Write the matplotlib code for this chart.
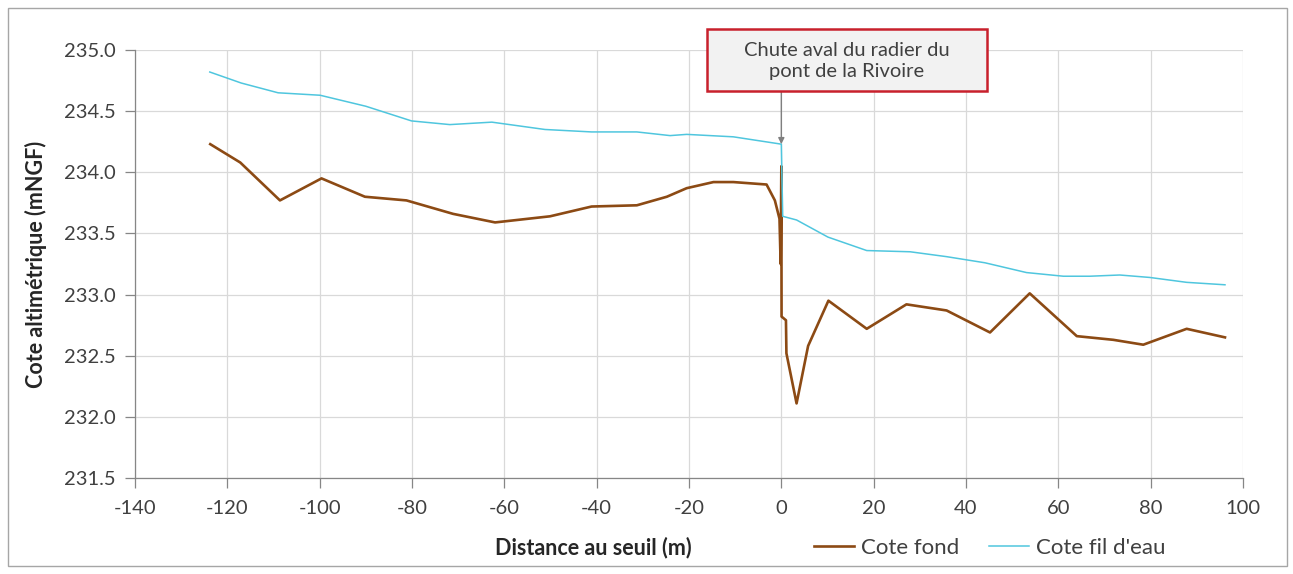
import matplotlib
matplotlib.use("Agg")
import matplotlib.pyplot as plt
from matplotlib.patches import Rectangle
from matplotlib.ticker import FormatStrFormatter, MultipleLocator

plt.rcParams['font.family'] = ['Lato', 'DejaVu Sans']
plt.rcParams['axes.unicode_minus'] = False

# ---- data ----
dist_fond = [-123.7, -117.2, -108.6, -99.6, -90.2, -81.2, -71.1, -62.0, -50.1, -41.1,
             -31.3, -24.8, -20.5, -14.7, -10.4, -3.2, -1.4, -0.4, -0.15, 0.0,
             0.05, 1.0, 1.1, 3.3, 5.8, 10.2, 18.5, 27.1, 35.8, 45.2,
             53.8, 64.0, 71.9, 78.4, 87.8, 96.1]
cote_fond = [234.23, 234.08, 233.77, 233.95, 233.80, 233.77, 233.66, 233.59, 233.64, 233.72,
             233.73, 233.80, 233.87, 233.92, 233.92, 233.90, 233.77, 233.62, 233.25, 234.05,
             232.82, 232.79, 232.52, 232.11, 232.58, 232.95, 232.72, 232.92, 232.87, 232.69,
             233.01, 232.66, 232.63, 232.59, 232.72, 232.65]

dist_eau = [-123.8, -117.0, -109.0, -99.9, -90.0, -80.1, -71.8, -62.7, -51.2, -41.1,
            -31.3, -24.1, -20.5, -10.4, 0.0, 0.3, 3.3, 10.1, 18.5, 27.9,
            35.8, 44.1, 53.1, 61.1, 66.8, 73.3, 79.8, 87.8, 96.1]
cote_eau = [234.82, 234.73, 234.65, 234.63, 234.54, 234.42, 234.39, 234.41, 234.35, 234.33,
            234.33, 234.30, 234.31, 234.29, 234.23, 233.64, 233.61, 233.47, 233.36, 233.35,
            233.31, 233.26, 233.18, 233.15, 233.15, 233.16, 233.14, 233.10, 233.08]

annot_x, annot_y = 0.0, 234.23
annot_text = "Chute aval du radier du\npont de la Rivoire"
series_labels = ["Cote fond", "Cote fil d'eau"]
xlabel = "Distance au seuil (m)"
ylabel = "Cote altimétrique (mNGF)"

W, H = 1293, 574
fig = plt.figure(figsize=(W / 100, H / 100), dpi=100)
ax = fig.add_axes([135 / W, 1 - 478 / H, (1243 - 135) / W, (478 - 50) / H])

grid_c = '#D9D9D9'
axis_c = '#868686'
text_c = '#404040'

ax.plot(dist_fond, cote_fond, color='#8C4A14', lw=1.9, label=series_labels[0], zorder=3)
ax.plot(dist_eau, cote_eau, color='#4FC6DE', lw=1.1, label=series_labels[1], zorder=4)

ax.set_xlim(-140, 100)
ax.set_ylim(231.5, 235.0)
ax.xaxis.set_major_locator(MultipleLocator(20))
ax.yaxis.set_major_locator(MultipleLocator(0.5))
ax.yaxis.set_major_formatter(FormatStrFormatter('%.1f'))
ax.grid(True, color=grid_c, lw=0.9, zorder=0)
ax.set_axisbelow(True)
for s in ['top', 'right']:
    ax.spines[s].set_visible(False)
for s in ['left', 'bottom']:
    ax.spines[s].set_color(axis_c)
    ax.spines[s].set_linewidth(0.9)
ax.tick_params(axis='both', colors=axis_c, length=7, width=0.9, labelsize=14.5,
               labelcolor=text_c, direction='out')
ax.tick_params(axis='y', pad=7)
ax.tick_params(axis='x', pad=9)

ax.set_xlabel(xlabel, fontsize=15.5, fontweight='bold', color='#262626')
ax.xaxis.set_label_coords((593 - 135) / (1243 - 135), -(537 - 478) / (478 - 50))
ax.set_ylabel(ylabel, fontsize=15.5, fontweight='bold', color='#262626', labelpad=12)

leg = fig.legend(loc='center left', bbox_to_anchor=(814 / W, 1 - 548 / H), ncol=2,
                 frameon=False, fontsize=16, handlelength=1.8, handletextpad=0.3,
                 columnspacing=1.35, borderpad=0, borderaxespad=0)
for t in leg.get_texts():
    t.set_color(text_c)

# annotation box + arrow
fig.patches.append(Rectangle((707 / W, 1 - 91 / H), (987 - 707) / W, (91 - 29) / H,
                             transform=fig.transFigure, fc='#F2F2F2', ec='#C8202C',
                             lw=1.8, zorder=5))
fig.text(847 / W, 1 - 61 / H, annot_text, ha='center', va='center', fontsize=14.5,
         color=text_c, linespacing=1.35, zorder=6)
ax.annotate('', xy=(annot_x, annot_y), xycoords='data',
            xytext=(annot_x, 1 - 91 / H), textcoords=('data', 'figure fraction'),
            arrowprops=dict(arrowstyle='-|>', color='#7F7F7F', lw=1.0, mutation_scale=9,
                            shrinkA=0, shrinkB=0), zorder=6, annotation_clip=False)

# figure border
fig.patches.append(Rectangle((8 / W, 8 / H), (1287 - 8) / W, (566 - 8) / H,
                             transform=fig.transFigure, fill=False, ec='#A6A6A6', lw=1.0))

fig.savefig('out.png', dpi=100)
